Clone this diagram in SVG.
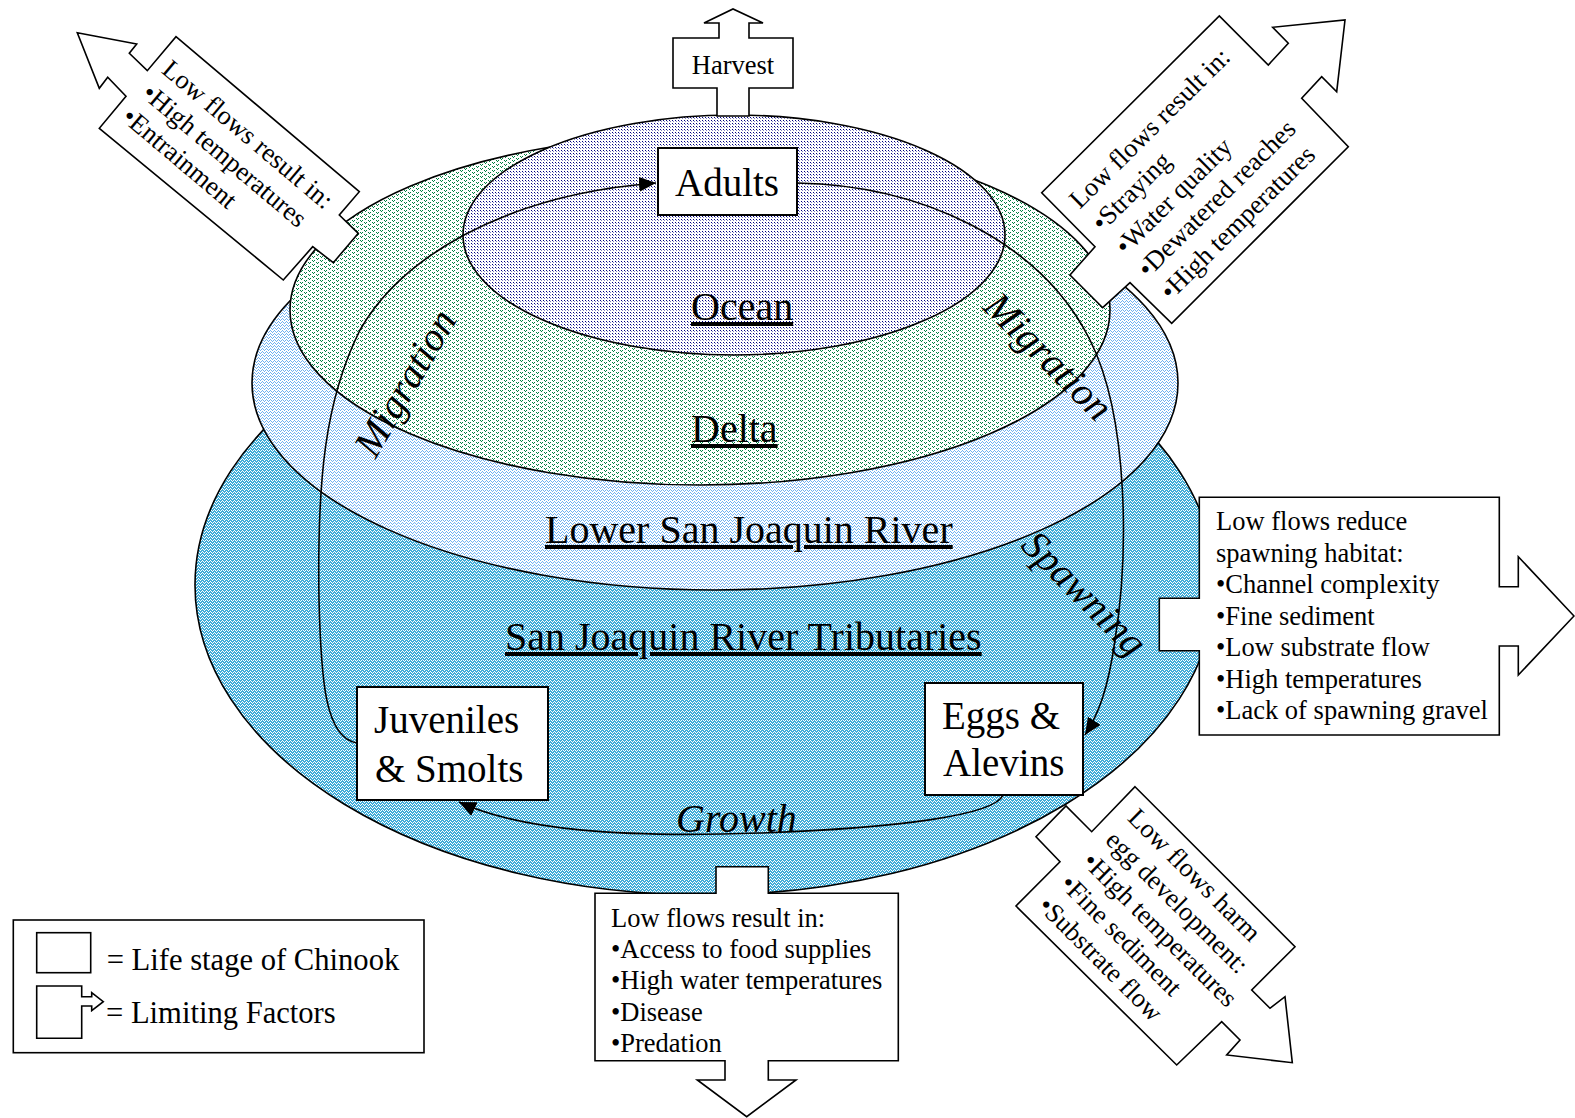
<svg xmlns="http://www.w3.org/2000/svg" width="1575" height="1118" viewBox="0 0 1575 1118">
<style>
text{font-family:"Liberation Serif","Times New Roman",serif;fill:#000}
.s{font-size:26.5px}
.b{font-size:39px}
.r{font-size:40px}
.it{font-size:40px;font-style:italic}
.lg{font-size:30.6px}
.u{text-decoration:underline}
.ell{stroke:#000;stroke-width:1.6}
.box{fill:#fff;stroke:#000;stroke-width:2}
.lf{fill:#fff;stroke:#000;stroke-width:1.6;stroke-linejoin:miter}
.con{fill:none;stroke:#000;stroke-width:1.6}
</style>
<defs>
<pattern id="pOcean" width="3" height="3" patternUnits="userSpaceOnUse">
<rect width="3" height="3" fill="#fff"/><rect x="0" y="0" width="1" height="1" fill="#000080"/><rect x="1" y="1" width="1" height="1" fill="#8080c0"/>
</pattern>
<pattern id="pGreen" width="8" height="4" patternUnits="userSpaceOnUse">
<rect width="8" height="4" fill="#fff"/>
<rect x="0" y="0" width="1" height="1" fill="#008040"/><rect x="2" y="0" width="1" height="1" fill="#008040"/><rect x="1" y="1" width="1" height="1" fill="#008040"/>
<rect x="4" y="2" width="1" height="1" fill="#008040"/><rect x="6" y="2" width="1" height="1" fill="#008040"/><rect x="5" y="3" width="1" height="1" fill="#008040"/>
</pattern>
<pattern id="pLBlue" width="4" height="3" patternUnits="userSpaceOnUse">
<rect width="4" height="3" fill="#fff"/>
<rect x="0" y="2" width="1" height="1" fill="#70b0f0"/><rect x="1" y="1" width="1" height="1" fill="#70b0f0"/><rect x="2" y="0" width="1" height="1" fill="#70b0f0"/><rect x="3" y="1" width="1" height="1" fill="#70b0f0"/>
</pattern>
<pattern id="pTeal" width="4" height="3" patternUnits="userSpaceOnUse">
<rect width="4" height="3" fill="#fff"/>
<rect x="0" y="2" width="1" height="1" fill="#40acd8"/><rect x="1" y="1" width="1" height="1" fill="#40acd8"/><rect x="2" y="0" width="1" height="1" fill="#40acd8"/><rect x="3" y="1" width="1" height="1" fill="#40acd8"/>
<rect x="0" y="0" width="1" height="1" fill="#40acd8"/><rect x="1" y="2" width="1" height="1" fill="#40acd8"/><rect x="2" y="1" width="1" height="1" fill="#40acd8"/><rect x="3" y="2" width="1" height="1" fill="#40acd8"/>
</pattern>
<marker id="ah" markerWidth="17" markerHeight="15" refX="17" refY="7.5" orient="auto" markerUnits="userSpaceOnUse">
<path d="M0,0 L17,7.5 L0,15 z" fill="#000"/>
</marker>
</defs>
<rect width="1575" height="1118" fill="#fff"/>

<g id="regions">
<ellipse id="tributaries" cx="705" cy="585" rx="510" ry="310" fill="url(#pTeal)" class="ell"/>
<ellipse id="lower-sjr" cx="715" cy="383" rx="463" ry="207" fill="url(#pLBlue)" class="ell"/>
<ellipse id="delta" cx="700" cy="310" rx="410" ry="175" fill="url(#pGreen)" class="ell"/>
<ellipse id="ocean" cx="734" cy="235" rx="271" ry="120" fill="url(#pOcean)" class="ell"/>
</g>

<g id="region-labels">
<text class="r u" x="691" y="320">Ocean</text>
<text class="r u" x="691" y="442">Delta</text>
<text class="r u" x="545" y="543">Lower San Joaquin River</text>
<text class="r u" x="505" y="650">San Joaquin River Tributaries</text>
</g>

<g id="connectors">
<path class="con" d="M357,743 C325,738 321,680 319,600 C317,480 325,400 360,330 C400,260 500,195 656,183" marker-end="url(#ah)"/>
<path class="con" d="M797,183 C920,185 1040,240 1090,340 C1130,420 1128,560 1115,640 C1108,690 1098,715 1085,735" marker-end="url(#ah)"/>
<path class="con" d="M1003,795 C995,815 900,828 760,833 C620,838 520,830 459,802" marker-end="url(#ah)"/>
</g>

<g id="connector-labels">
<text class="it" text-anchor="middle" transform="translate(407,384) rotate(-59.6)" y="11">Migration</text>
<text class="it" text-anchor="middle" transform="translate(1047,358) rotate(45)" y="11">Migration</text>
<text class="it" text-anchor="middle" transform="translate(1083,595) rotate(45)" y="11">Spawning</text>
<text class="it" x="676" y="832">Growth</text>
</g>

<g id="harvest">
<polygon class="lf" points="717,116 717,88 673,88 673,38 719,38 719,23 704,23 733,9 763,23 749,23 749,38 793,38 793,88 749,88 749,116"/>
<text class="s" x="733" y="74" text-anchor="middle">Harvest</text>
</g>

<g id="factor-ocean">
<polygon class="lf" points="77.3,32.7 136.7,44 129.3,53.3 147.3,70.7 176,36.7 359.3,191.7 339.3,215 358.3,233.3 333.3,262.7 312.7,246.7 283.3,280 99.3,128.3 126,96.3 107.7,77.3 99.3,88.3"/>
<g transform="translate(176,36.7) rotate(40.2)">
<text class="s" x="11" y="37">Low flows result in:</text>
<text class="s" x="11" y="68">•High temperatures</text>
<text class="s" x="11" y="99">•Entrainment</text>
</g>
</g>

<g id="factor-migration">
<polygon class="lf" points="1345,20 1336.7,91.7 1321.7,76.7 1301.7,98.3 1348.3,146.7 1171.7,323.3 1130,282.7 1102.7,307.7 1070,275 1095,246.7 1041.7,192.7 1219.3,16 1268.3,65 1288.3,43.3 1272.7,27.3"/>
<g transform="translate(1041.7,192.7) rotate(-44.8)">
<text class="s" x="15" y="39">Low flows result in:</text>
<text class="s" x="15" y="71">•Straying</text>
<text class="s" x="15" y="104">•Water quality</text>
<text class="s" x="15" y="136">•Dewatered reaches</text>
<text class="s" x="15" y="168">•High temperatures</text>
</g>
</g>

<g id="factor-spawning">
<polygon class="lf" points="1199.3,497.3 1499.3,497.3 1499.3,586.7 1518.3,586.7 1518.3,556.7 1574,616 1518.3,675 1518.3,646 1499.3,646 1499.3,735 1199.3,735 1199.3,650.7 1159.3,650.7 1159.3,598.3 1199.3,598.3"/>
<text class="s" x="1216" y="530">Low flows reduce</text>
<text class="s" x="1216" y="561.5">spawning habitat:</text>
<text class="s" x="1216" y="593">•Channel complexity</text>
<text class="s" x="1216" y="624.5">•Fine sediment</text>
<text class="s" x="1216" y="656">•Low substrate flow</text>
<text class="s" x="1216" y="687.5">•High temperatures</text>
<text class="s" x="1216" y="719">•Lack of spawning gravel</text>
</g>

<g id="factor-eggs">
<polygon class="lf" points="1135,786.7 1295,946.7 1251.7,990 1270,1008.3 1285,996.7 1292.3,1062.7 1226.7,1055 1240,1040 1221.7,1021.7 1176.7,1065 1016,906 1060,861.7 1036,836.7 1066,806 1091.7,831.7"/>
<g transform="translate(1135,786.7) rotate(45)">
<text class="s" x="17" y="29">Low flows harm</text>
<text class="s" x="17" y="60.5">egg development:</text>
<text class="s" x="16" y="92">•High temperatures</text>
<text class="s" x="16" y="123.5">•Fine sediment</text>
<text class="s" x="16" y="155">•Substrate flow</text>
</g>
</g>

<g id="factor-growth">
<polygon class="lf" points="716,866.7 768.3,866.7 768.3,893.3 898.3,893.3 898.3,1060.7 768.3,1060.7 768.3,1080 796,1080 746.7,1116.7 697.3,1080 725,1080 725,1060.7 595,1060.7 595,893.3 716,893.3"/>
<text class="s" x="611" y="927.3">Low flows result in:</text>
<text class="s" x="611" y="958.3">•Access to food supplies</text>
<text class="s" x="611" y="989.3">•High water temperatures</text>
<text class="s" x="611" y="1020.7">•Disease</text>
<text class="s" x="611" y="1051.7">•Predation</text>
</g>

<g id="adults">
<rect class="box" x="658" y="148" width="139" height="67"/>
<text class="b" x="675" y="196">Adults</text>
</g>
<g id="juveniles">
<rect class="box" x="357" y="687" width="191" height="113"/>
<text class="b" x="374" y="733">Juveniles</text>
<text class="b" x="375" y="782">&amp; Smolts</text>
</g>
<g id="eggs">
<rect class="box" x="925" y="683" width="158" height="112"/>
<text class="b" x="942" y="729">Eggs &amp;</text>
<text class="b" x="943" y="776">Alevins</text>
</g>

<g id="legend">
<rect x="13.3" y="920" width="410.7" height="132.7" fill="#fff" stroke="#000" stroke-width="1.6"/>
<rect x="36.7" y="932.7" width="54" height="40" fill="#fff" stroke="#000" stroke-width="1.6"/>
<polygon class="lf" points="36.7,986 81.7,986 81.7,996.7 91.7,996.7 91.7,992.7 103.3,1001.7 91.7,1010.7 91.7,1006 81.7,1006 81.7,1038.3 36.7,1038.3"/>
<text class="lg" x="106.7" y="970">= Life stage of Chinook</text>
<text class="lg" x="106" y="1023">= Limiting Factors</text>
</g>
</svg>
